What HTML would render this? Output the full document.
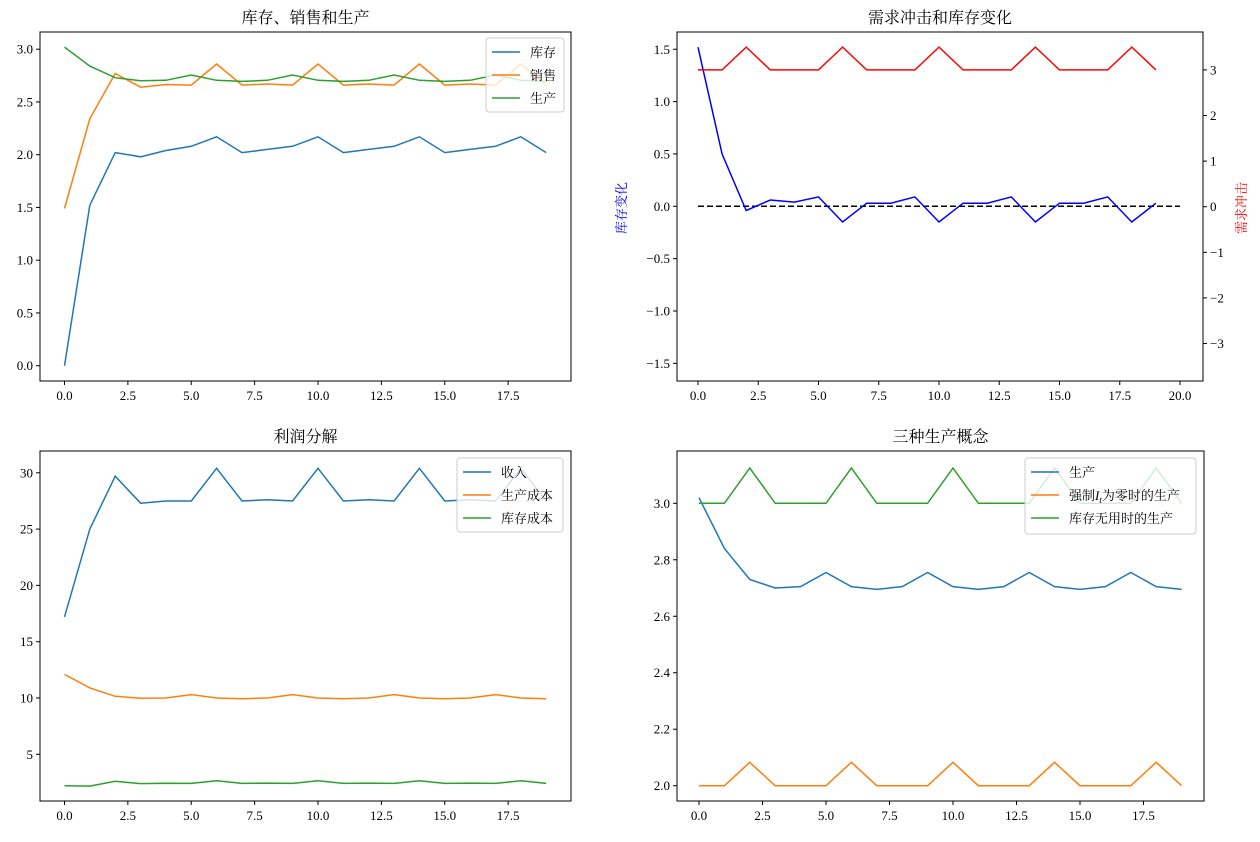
<!DOCTYPE html>
<html><head><meta charset="utf-8"><style>
body{margin:0;background:#fff;width:1260px;height:837px;overflow:hidden}
svg text{font-family:"Liberation Serif","Noto Serif CJK SC",serif;fill:#000}
</style></head><body>
<svg id="s" width="1260" height="837" xmlns="http://www.w3.org/2000/svg"></svg>
<script>
const S=document.getElementById('s');let h='';
const B='#1f77b4',O='#ff7f0e',G='#2ca02c';
const inv=[0,1.52,2.02,1.98,2.04,2.08,2.17,2.02,2.05,2.08,2.17,2.02,2.05,2.08,2.17,2.02,2.05,2.08,2.17,2.02];
const sal=[1.49,2.34,2.77,2.64,2.665,2.66,2.86,2.66,2.67,2.66,2.86,2.66,2.67,2.66,2.86,2.66,2.67,2.66,2.86,2.66];
const pro=[3.02,2.84,2.73,2.70,2.705,2.755,2.705,2.695,2.705,2.755,2.705,2.695,2.705,2.755,2.705,2.695,2.705,2.755,2.705,2.695];
const dI=[1.52,0.5,-0.04,0.06,0.04,0.09,-0.15,0.03,0.03,0.09,-0.15,0.03,0.03,0.09,-0.15,0.03,0.03,0.09,-0.15,0.03];
const dem=[];for(let i=0;i<20;i++)dem.push(i>=2&&(i-2)%4==0?3.5:3);
const rev=[17.2,25,29.7,27.3,27.5,27.5,30.4,27.5,27.6,27.5,30.4,27.5,27.6,27.5,30.4,27.5,27.6,27.5,30.4,27.5];
const pc=pro.map(p=>p*6-6.23).map((v,i)=>i==0?12.1:i==1?10.9:v);
const ic=[2.2,2.18,2.6,2.4,2.43,2.42,2.65,2.42,2.44,2.42,2.65,2.42,2.44,2.42,2.65,2.42,2.44,2.42,2.65,2.42];
const f0=dem.map(d=>d==3.5?2.083:2),f1=dem.map(d=>d==3.5?3.125:3);
function line(d,X,Y,c,extra){h+=`<polyline fill="none" stroke="${c}" stroke-width="1.5" ${extra||''} points="${d.map((v,i)=>X(i).toFixed(1)+','+Y(v).toFixed(1)).join(' ')}"/>`;}
function ax(l,t,r,b,title,X,xt,Y,yt,yf){
 h+=`<rect x="${l}" y="${t}" width="${r-l}" height="${b-t}" fill="none" stroke="#000" stroke-width="1"/>`;
 h+=`<text x="${(l+r)/2}" y="${t-9}" font-size="16" text-anchor="middle">${title}</text>`;
 xt.forEach(v=>{const x=X(v);h+=`<line x1="${x}" y1="${b}" x2="${x}" y2="${b+4}" stroke="#000"/><text x="${x}" y="${b+19}" font-size="13" text-anchor="middle">${v.toFixed(1)}</text>`;});
 yt.forEach(v=>{const y=Y(v);h+=`<line x1="${l-4}" y1="${y}" x2="${l}" y2="${y}" stroke="#000"/><text x="${l-7}" y="${y+4.5}" font-size="13" text-anchor="end">${yf(v)}</text>`;});
}
function leg(x,y,w,items){h+=`<rect x="${x}" y="${y}" width="${w}" height="${items.length*23+5}" rx="3" fill="#fff" fill-opacity="0.8" stroke="#ccc"/>`;
 items.forEach((it,i)=>{const yy=y+14+i*23;h+=`<line x1="${x+6}" y1="${yy}" x2="${x+34}" y2="${yy}" stroke="${it[1]}" stroke-width="1.5"/><text x="${x+44}" y="${yy+5}" font-size="13">${it[0]}</text>`;});}
const m=v=>(v<0?'−':'')+Math.abs(v).toFixed(1);
const xs=[0,2.5,5,7.5,10,12.5,15,17.5];
// TL
let X=i=>64.5+i*25.35,Y=v=>365.7-v*105.5;
ax(40,32,571,381,'库存、销售和生产',X,xs,Y,[0,.5,1,1.5,2,2.5,3],m);
line(inv,X,Y,B);line(sal,X,Y,O);line(pro,X,Y,G);
leg(486,38,78,[['库存',B],['销售',O],['生产',G]]);
// TR
X=i=>698+i*24.1;Y=v=>206.3-v*104.7;const Y2=v=>206.7-v*45.6;
ax(677,32,1203,381,'需求冲击和库存变化',X,[0,2.5,5,7.5,10,12.5,15,17.5,20],Y,[-1.5,-1,-.5,0,.5,1,1.5],m);
[-3,-2,-1,0,1,2,3].forEach(v=>{const y=Y2(v);h+=`<line x1="1203" y1="${y}" x2="1207" y2="${y}" stroke="#000"/><text x="1210" y="${y+4.5}" font-size="13">${v<0?'−'+(-v):v}</text>`;});
h+=`<text transform="translate(626,208) rotate(-90)" font-size="13" style="fill:blue" text-anchor="middle">库存变化</text>`;
h+=`<text transform="translate(1246,208) rotate(-90)" font-size="13" style="fill:red" text-anchor="middle">需求冲击</text>`;
h+=`<line x1="${X(0)}" y1="${Y(0)}" x2="${X(20)}" y2="${Y(0)}" stroke="#000" stroke-width="1.5" stroke-dasharray="6,3"/>`;
line(dI,X,Y,'blue');line(dem,X,Y2,'red');
// BL
X=i=>64.5+i*25.35;Y=v=>810.6-v*11.26;
ax(40,451,571,801,'利润分解',X,xs,Y,[5,10,15,20,25,30],v=>v);
line(rev,X,Y,B);line(pc,X,Y,O);line(ic,X,Y,G);
leg(457,458,106,[['收入',B],['生产成本',O],['库存成本',G]]);
// BR
X=i=>699+i*25.4;Y=v=>785.7-(v-2)*282.4;
ax(677,451,1204,801,'三种生产概念',X,xs,Y,[2,2.2,2.4,2.6,2.8,3],v=>v.toFixed(1));
line(pro,X,Y,B);line(f0,X,Y,O);line(f1,X,Y,G);
h+=`<rect x="1025" y="458" width="171" height="76" rx="3" fill="#fff" fill-opacity="0.8" stroke="#ccc"/>`;
[['生产',B],['强制<tspan font-style="italic">I</tspan><tspan font-size="9" dy="3" font-style="italic">t</tspan><tspan dy="-3">为零时的生产</tspan>',O],['库存无用时的生产',G]].forEach((it,i)=>{const yy=472+i*23;h+=`<line x1="1031" y1="${yy}" x2="1059" y2="${yy}" stroke="${it[1]}" stroke-width="1.5"/><text x="1069" y="${yy+5}" font-size="13">${it[0]}</text>`;});
S.innerHTML=h;
</script>
</body></html>
